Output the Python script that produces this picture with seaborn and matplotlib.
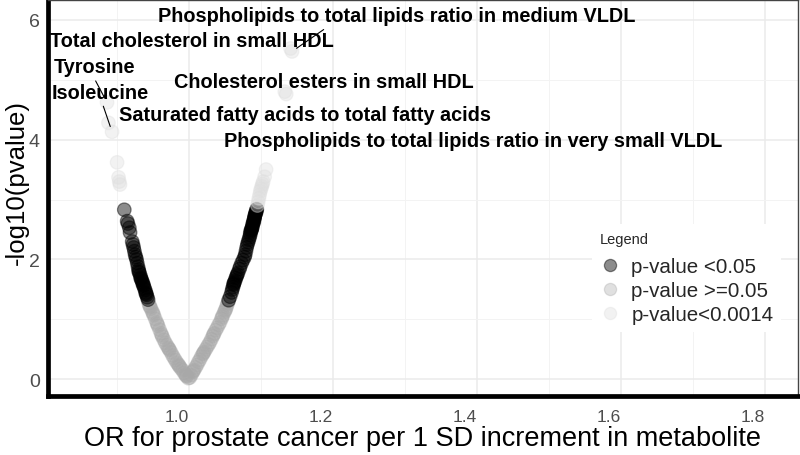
import numpy as np
import pandas as pd
import matplotlib
matplotlib.use("Agg")
import matplotlib.pyplot as plt
from matplotlib.colors import to_rgba
from matplotlib.ticker import MultipleLocator
import seaborn as sns

# ------------------------------------------------------------
# Data (OR, -log10 p)
# ------------------------------------------------------------
left_gray_or = [0.999, 0.997, 0.996, 0.995, 0.993, 0.991, 0.989, 0.987, 0.986, 0.985,
                0.983, 0.981, 0.979, 0.977, 0.975, 0.973, 0.972, 0.971, 0.969, 0.967,
                0.965, 0.963, 0.962, 0.961, 0.959, 0.957, 0.956, 0.955, 0.953, 0.951,
                0.950, 0.949, 0.947, 0.946, 0.945, 0.944]
left_gray_p = [0.02, 0.05, 0.06, 0.08, 0.11, 0.15, 0.18, 0.21, 0.23, 0.25,
               0.28, 0.32, 0.36, 0.40, 0.45, 0.49, 0.51, 0.53, 0.57, 0.61,
               0.66, 0.71, 0.74, 0.77, 0.83, 0.89, 0.92, 0.95, 1.01, 1.07,
               1.10, 1.13, 1.18, 1.21, 1.23, 1.27]

left_dark_or = [0.943, 0.942, 0.941, 0.940, 0.940, 0.939, 0.938, 0.937, 0.936, 0.936,
                0.935, 0.934, 0.933, 0.933, 0.932, 0.931, 0.930, 0.930, 0.929, 0.928,
                0.927, 0.926, 0.925, 0.924, 0.923, 0.922, 0.921, 0.918, 0.917, 0.915,
                0.914, 0.910]
left_dark_p = [1.33, 1.37, 1.41, 1.43, 1.45, 1.49, 1.52, 1.56, 1.58, 1.60,
               1.63, 1.66, 1.68, 1.70, 1.74, 1.78, 1.80, 1.83, 1.88, 1.94,
               2.00, 2.04, 2.08, 2.14, 2.20, 2.25, 2.30, 2.45, 2.53, 2.60,
               2.64, 2.83]

left_light_or = [0.904, 0.903, 0.902, 0.900]
left_light_p = [3.25, 3.30, 3.37, 3.62]

right_gray_or = [1.001, 1.003, 1.005, 1.006, 1.007, 1.009, 1.011, 1.013, 1.015, 1.017,
                 1.019, 1.020, 1.021, 1.023, 1.025, 1.027, 1.029, 1.031, 1.033, 1.034,
                 1.035, 1.037, 1.039, 1.041, 1.043, 1.045, 1.046, 1.047, 1.049, 1.050,
                 1.051, 1.052, 1.053, 1.054]
right_gray_p = [0.03, 0.07, 0.12, 0.14, 0.16, 0.20, 0.24, 0.29, 0.33, 0.38,
                0.42, 0.44, 0.46, 0.50, 0.54, 0.58, 0.62, 0.67, 0.72, 0.75,
                0.77, 0.82, 0.86, 0.91, 0.95, 1.01, 1.04, 1.07, 1.12, 1.15,
                1.17, 1.21, 1.25, 1.28]

right_dark_or = [1.055, 1.057, 1.059, 1.060, 1.061, 1.062, 1.062, 1.063, 1.064, 1.065,
                 1.066, 1.067, 1.068, 1.070, 1.071, 1.073, 1.075, 1.077, 1.078, 1.079,
                 1.080, 1.081, 1.082, 1.083, 1.084, 1.085, 1.085, 1.086, 1.086, 1.087,
                 1.087, 1.088, 1.088, 1.089, 1.089, 1.090, 1.090, 1.091, 1.091, 1.091,
                 1.092, 1.092, 1.093, 1.093, 1.094, 1.094]
right_dark_p = [1.32, 1.38, 1.45, 1.50, 1.54, 1.58, 1.60, 1.62, 1.65, 1.69,
                1.72, 1.75, 1.78, 1.84, 1.88, 1.94, 1.99, 2.04, 2.08, 2.14,
                2.20, 2.25, 2.29, 2.33, 2.37, 2.41, 2.44, 2.47, 2.49, 2.50,
                2.52, 2.54, 2.57, 2.60, 2.62, 2.63, 2.66, 2.69, 2.70, 2.72,
                2.75, 2.76, 2.78, 2.80, 2.83, 2.84]

right_light_or = [1.095, 1.096, 1.097, 1.098, 1.099, 1.100, 1.101, 1.102, 1.103, 1.105, 1.107]
right_light_p = [2.90, 2.96, 3.02, 3.08, 3.14, 3.18, 3.22, 3.26, 3.30, 3.38, 3.50]

# labelled metabolites
label_names = ["Phospholipids to total lipids ratio in medium VLDL",
               "Total cholesterol in small HDL",
               "Tyrosine",
               "Isoleucine",
               "Cholesterol esters in small HDL",
               "Saturated fatty acids to total fatty acids",
               "Phospholipids to total lipids ratio in very small VLDL"]
label_or = [1.143, 1.141, 0.886, 0.893, 1.133, 0.888, 1.135]
label_p = [5.47, 5.52, 4.62, 4.13, 4.80, 4.28, 4.76]
text_or = [1.288, 1.004, 0.868, 0.876, 1.1875, 1.161, 1.394]
text_p = [5.97, 5.555, 5.12, 4.70, 4.883, 4.322, 3.90]
show_segment = [True, False, True, True, False, False, False]
segment_relx = [0.36, 0.5, 0.49, 0.52, 0.5, 0.5, 0.5]

x_ticks = [1.0, 1.2, 1.4, 1.6, 1.8]
x_tick_labels = ["1.0", "1.2", "1.4", "1.6", "1.8"]

group_names = ["p-value <0.05", "p-value >=0.05", "p-value<0.0014"]
group_colors = ["black", "#a8a8a8", "#dedede"]
group_alpha = [0.45, 0.35, 0.38]


def main():
    odds = (left_gray_or + left_dark_or + left_light_or + right_gray_or
            + right_dark_or + right_light_or + label_or)
    nlp = (left_gray_p + left_dark_p + left_light_p + right_gray_p
           + right_dark_p + right_light_p + label_p)
    df = pd.DataFrame({"OR": odds, "nlp": nlp})
    df["group"] = np.where(df["nlp"] > -np.log10(0.0014), group_names[2],
                           np.where(df["nlp"] > -np.log10(0.05), group_names[0], group_names[1]))

    sns.set_theme(style="whitegrid")
    plt.rcParams["font.family"] = ["Liberation Sans", "DejaVu Sans"]

    fig, ax = plt.subplots(figsize=(8, 4.56), dpi=100)
    fig.subplots_adjust(left=0.06, right=0.9975, bottom=0.129, top=0.998)

    palette = dict(zip(group_names, group_colors))
    sns.scatterplot(data=df, x="OR", y="nlp", hue="group", hue_order=group_names,
                    palette=palette, s=95, linewidth=0.9, ax=ax, zorder=3)

    # per-group transparency; edge = fill colour gives the darker rim of the original
    rgba_map = {g: to_rgba(c, a) for g, c, a in zip(group_names, group_colors, group_alpha)}
    point_rgba = np.array([rgba_map[g] for g in df["group"]])
    pts = ax.collections[0]
    pts.set_facecolors(point_rgba)
    pts.set_edgecolors(point_rgba)

    # labels, ggrepel-ish
    for i, name in enumerate(label_names):
        if show_segment[i]:
            ax.annotate(name, xy=(label_or[i], label_p[i]), xytext=(text_or[i], text_p[i]),
                        ha="center", va="baseline", fontsize=14.3, fontweight="bold",
                        color="black", zorder=5,
                        arrowprops=dict(arrowstyle="-", color="black", lw=0.8,
                                        relpos=(segment_relx[i], 0.0),
                                        shrinkA=1, shrinkB=4))
        else:
            ax.text(text_or[i], text_p[i], name, ha="center", va="baseline",
                    fontsize=14.3, fontweight="bold", color="black", zorder=5)

    ax.set_xlim(0.804, 1.846)
    ax.set_ylim(-0.28, 6.33)
    ax.xaxis.set_minor_locator(MultipleLocator(0.1))
    ax.yaxis.set_major_locator(MultipleLocator(2))
    ax.yaxis.set_minor_locator(MultipleLocator(1))
    ax.set_xticks(x_ticks)
    # the original has its x tick labels ending at the tick
    ax.set_xticklabels(x_tick_labels, ha="right")
    ax.grid(which="major", color="#ebebeb", lw=1.1)
    ax.grid(which="minor", color="#f3f3f3", lw=0.7)
    ax.set_axisbelow(True)

    ax.tick_params(axis="both", which="major", length=3, width=1, color="#333333",
                   labelcolor="#4d4d4d")
    ax.tick_params(axis="y", labelsize=14, pad=3)
    ax.tick_params(axis="x", labelsize=12.5, pad=6)
    ax.tick_params(which="minor", length=0)

    ax.set_xlabel("OR for prostate cancer per 1 SD increment in metabolite",
                  fontsize=19.5, color="black")
    ax.xaxis.set_label_coords(0.5, -0.0715)
    ax.set_ylabel("-log10(pvalue)", fontsize=18.5, color="black")
    ax.yaxis.set_label_coords(-0.026, 0.543)

    for side in ["left", "bottom"]:
        ax.spines[side].set_color("black")
        ax.spines[side].set_linewidth(3.4)
    for side in ["top", "right"]:
        ax.spines[side].set_color("#444444")
        ax.spines[side].set_linewidth(1.0)

    sns.move_legend(ax, loc="upper left", bbox_to_anchor=(0.7253, 0.4343),
                    title="Legend", frameon=True, fontsize=14.8, title_fontsize=10.5,
                    labelspacing=0.25, handlelength=1.0, handletextpad=0.55,
                    borderpad=0.37, borderaxespad=0, markerscale=0.9)
    leg = ax.get_legend()
    leg.get_frame().set_facecolor("white")
    leg.get_frame().set_edgecolor("none")
    leg.get_frame().set_alpha(1)
    leg._legend_box.align = "left"
    leg._legend_box.sep = 8
    for h, c, a in zip(leg.legend_handles, group_colors, group_alpha):
        h.set_alpha(None)
        h.set_markeredgecolor(to_rgba(c, a))
        h.set_markerfacecolor(to_rgba(c, a))

    fig.savefig("out.png", dpi=100)
    plt.close(fig)


if __name__ == "__main__":
    main()
